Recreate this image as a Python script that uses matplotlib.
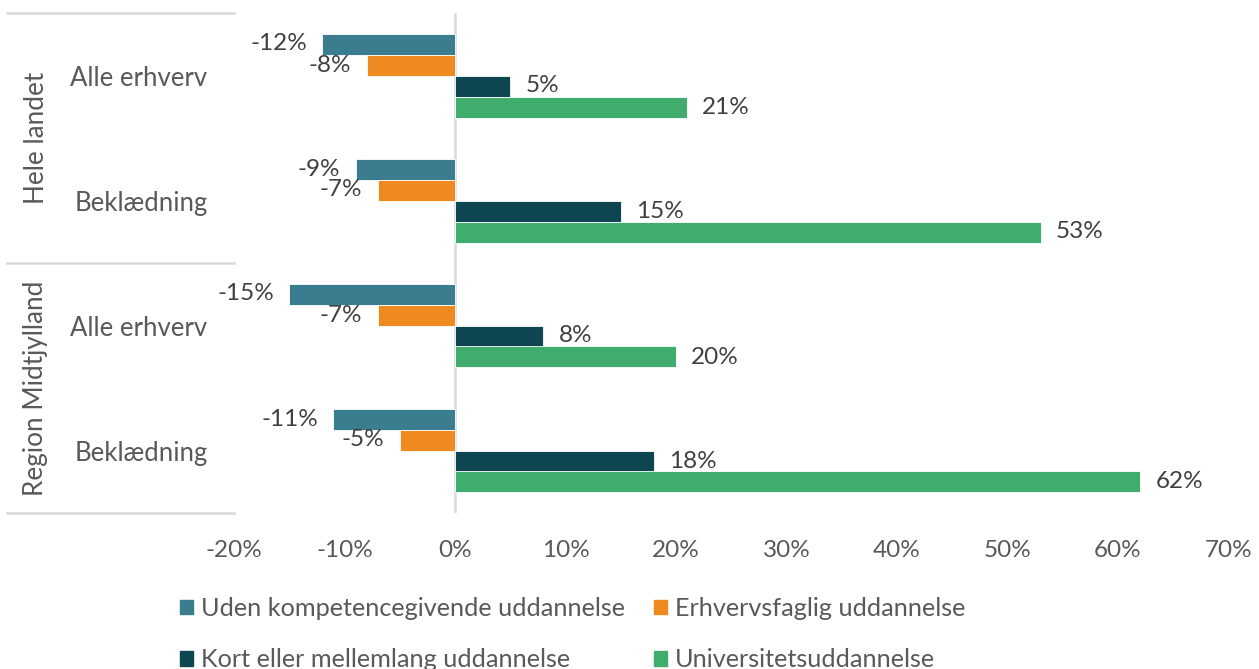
import matplotlib
matplotlib.use("Agg")
import matplotlib.pyplot as plt
from matplotlib.lines import Line2D
from matplotlib.patches import Patch
import matplotlib.transforms as mtransforms
import numpy as np

plt.rcParams['font.family'] = ['Lato', 'DejaVu Sans']

groups = ["Hele landet", "Region Midtjylland"]
categories = ["Alle erhverv", "Beklædning", "Alle erhverv", "Beklædning"]
series_names = ["Uden kompetencegivende uddannelse", "Erhvervsfaglig uddannelse",
                "Kort eller mellemlang uddannelse", "Universitetsuddannelse"]
uden = [-12, -9, -15, -11]
erhverv = [-8, -7, -7, -5]
kort = [5, 15, 8, 18]
univ = [21, 53, 20, 62]
values = [uden, erhverv, kort, univ]
colors = ["#3A7D8E", "#EE8A20", "#0D4550", "#40AD6E"]
xticks = [-20, -10, 0, 10, 20, 30, 40, 50, 60, 70]

W, H = 1259, 669
fig = plt.figure(figsize=(W / 100, H / 100), dpi=100)
ax = fig.add_axes([234 / W, 1 - 513 / H, (1228.5 - 234) / W, 500 / H])

y = np.arange(len(categories))
bh = 0.168
offsets = (np.arange(4) - 1.5) * bh
label_col = "#404040"
for vals, off, col in zip(values, offsets, colors):
    bars = ax.barh(y + off, vals, height=bh, color=col, edgecolor="white", linewidth=0.6, zorder=2)
    for b, v in zip(bars, vals):
        yc = b.get_y() + b.get_height() / 2
        if v < 0:
            ax.annotate(f"{v}%", (v, yc), xytext=(-11, 0), textcoords="offset points",
                        ha="right", va="center", fontsize=17.5, color=label_col)
        else:
            ax.annotate(f"{v}%", (v, yc), xytext=(11, 0), textcoords="offset points",
                        ha="left", va="center", fontsize=17.5, color=label_col)

ax.set_xlim(-20, 70)
ax.set_ylim(3.5, -0.5)
ax.axvline(0, color="#D9D9D9", lw=1.8, zorder=1)
for s in ax.spines.values():
    s.set_visible(False)
ax.set_xticks(xticks)
ax.set_xticklabels([f"{t}%" for t in xticks], fontsize=17.5, color="#595959")
ax.tick_params(axis="x", length=0, pad=19.5)
ax.set_yticks(y)
ax.set_yticklabels(categories, fontsize=18.5, color="#595959")
ax.tick_params(axis="y", length=0, pad=19)

# group labels and separator lines
trans = mtransforms.blended_transform_factory(fig.transFigure, ax.transData)
for gi, g in enumerate(groups):
    ax.text(36 / W, 2 * gi + 0.5, g, transform=trans, rotation=90, ha="center", va="center",
            fontsize=18.8, color="#595959")
for yy in [-0.5, 1.5, 3.5]:
    ax.add_line(Line2D([7 / W, 234 / W], [yy, yy], transform=trans, color="#D9D9D9",
                       lw=1.8, clip_on=False))

handles = [Patch(color=c) for c in colors]
order = [0, 2, 1, 3]
fig.legend([handles[i] for i in order], [series_names[i] for i in order],
           loc="center left", bbox_to_anchor=(180 / W, 1 - 634 / H), ncol=2, frameon=False,
           fontsize=18.2, labelcolor="#595959", handlelength=0.52, handleheight=0.52,
           handletextpad=0.3, columnspacing=1.15, labelspacing=1.12, borderpad=0,
           borderaxespad=0)

fig.savefig("out.png", dpi=100)
